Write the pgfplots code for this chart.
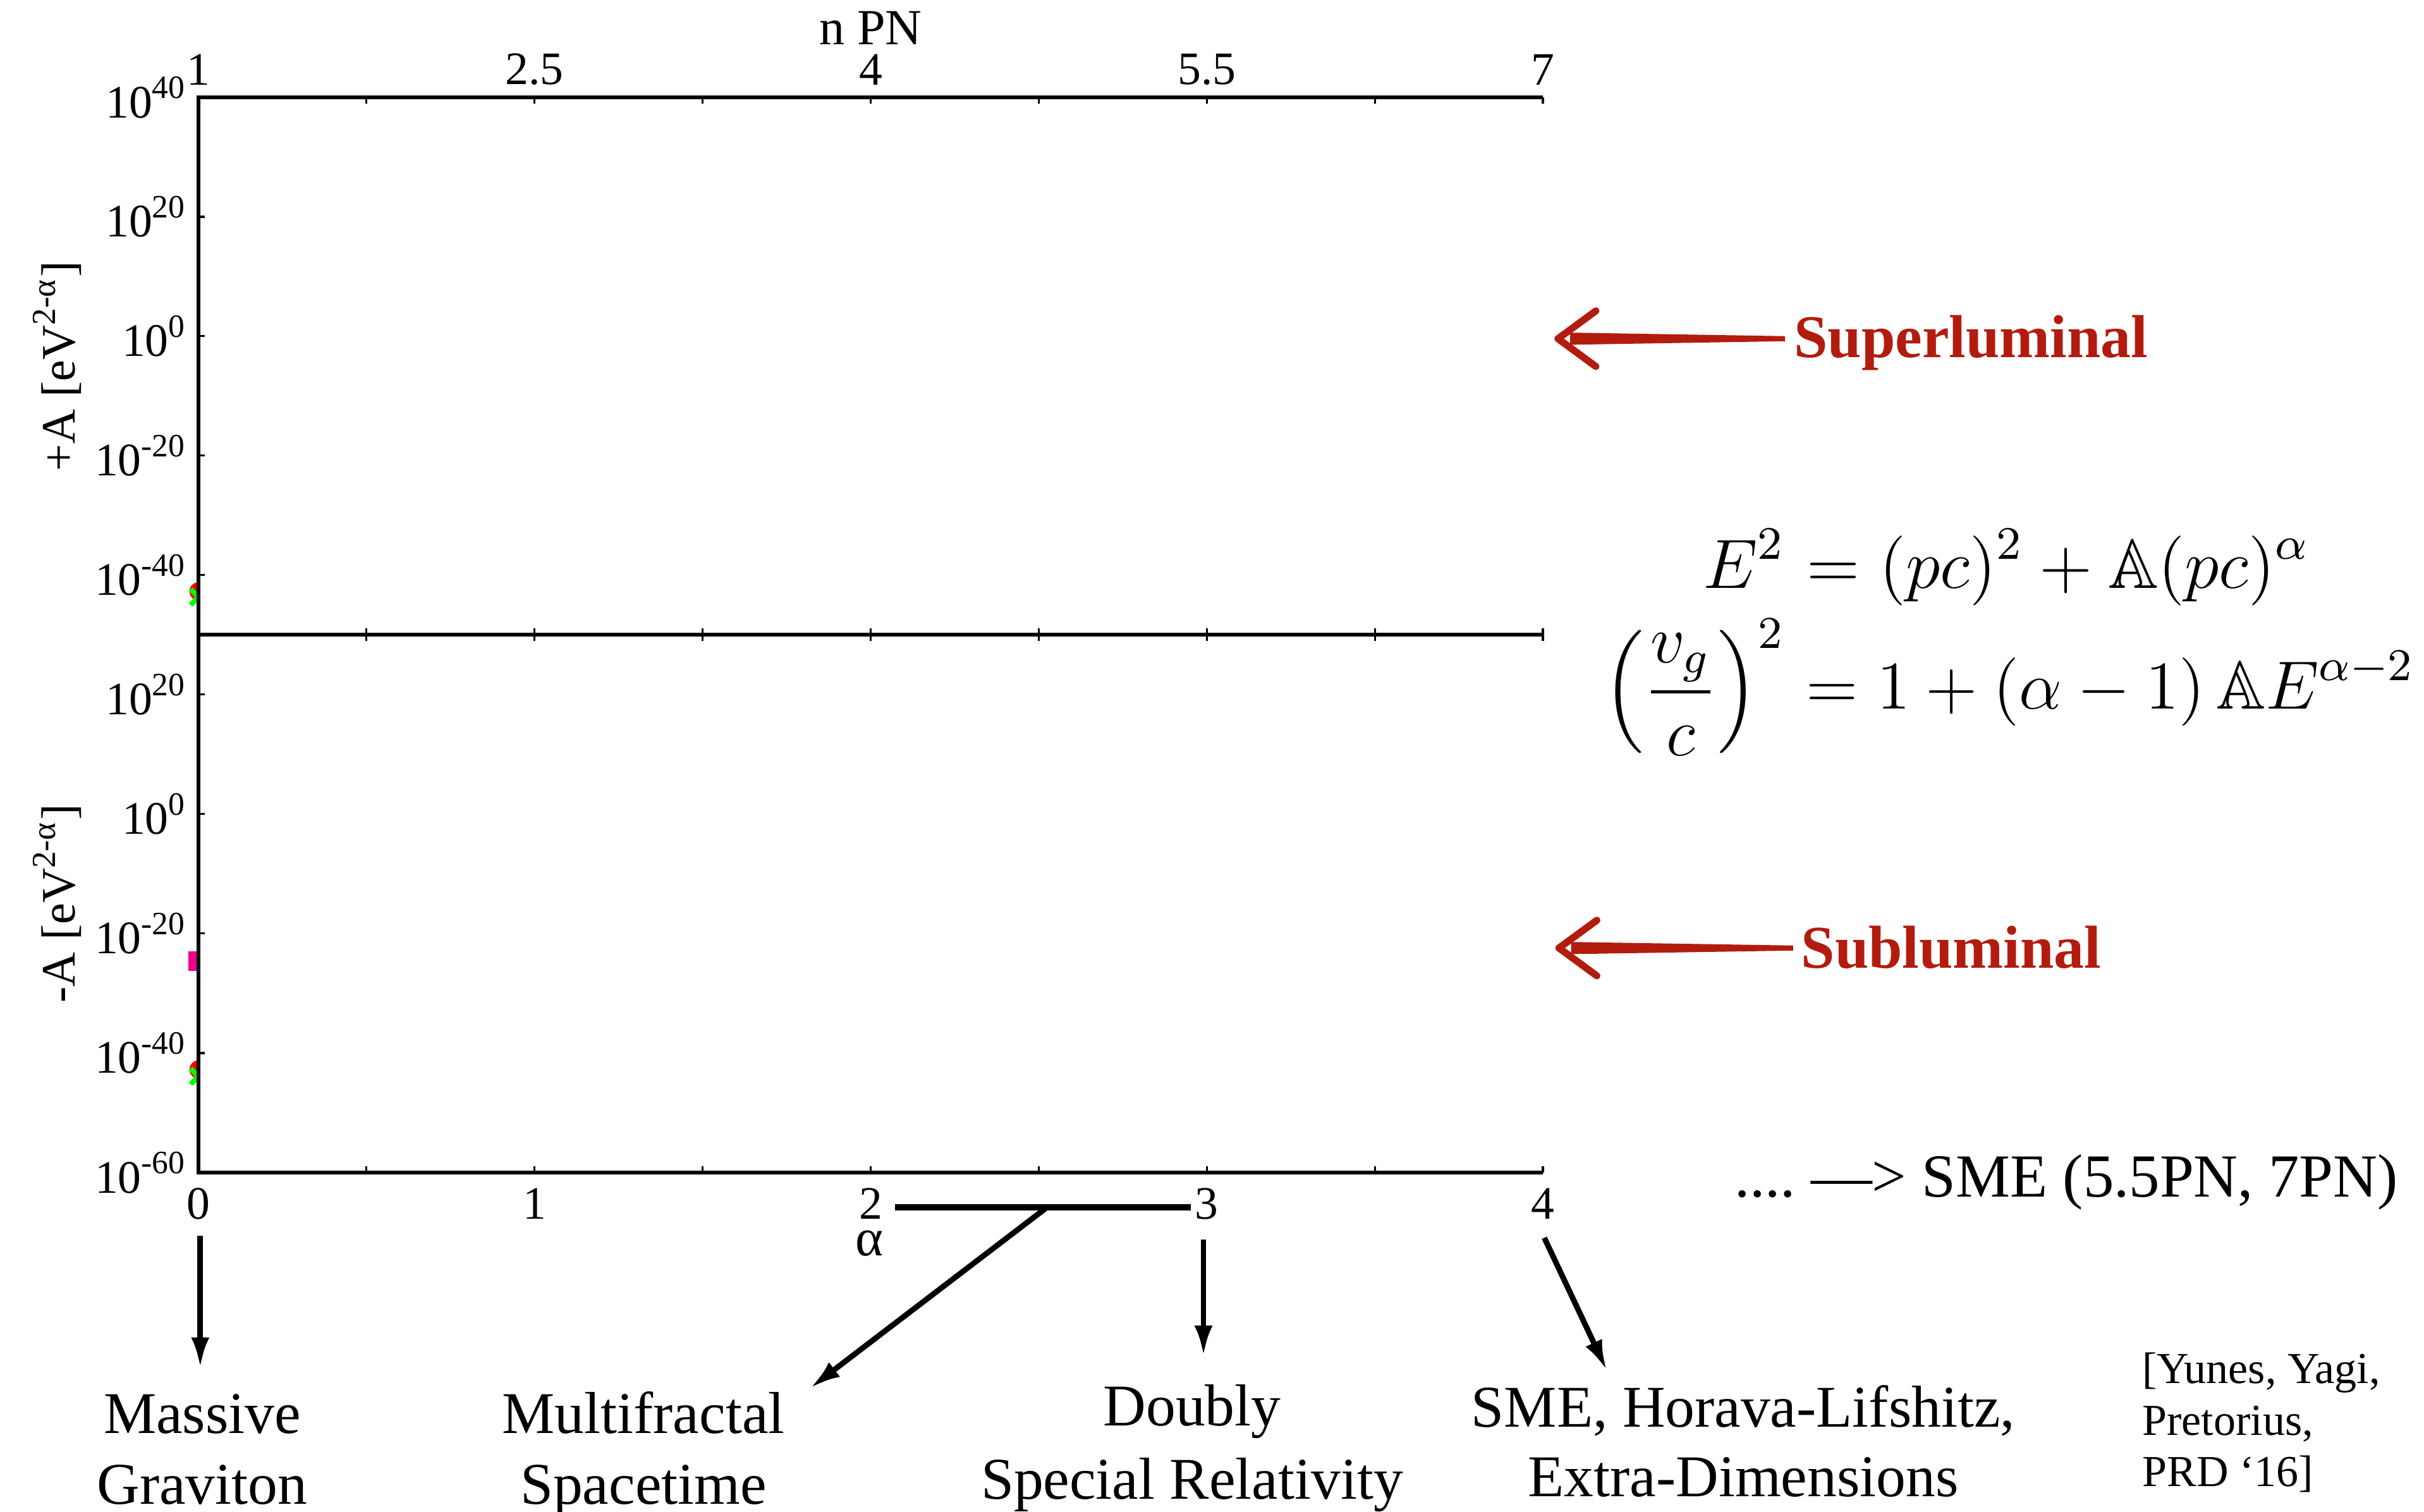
\documentclass[border=0pt]{standalone}
\usepackage{amssymb}
\usepackage[no-math]{fontspec}
\setmainfont{Liberation Serif}
\usepackage{pgfplots}
\pgfplotsset{compat=1.18}
\usetikzlibrary{arrows.meta}

\definecolor{lumred}{RGB}{178,28,14}
\newcommand{\eqsize}{\fontsize{12}{14}\selectfont}
\newcommand{\tickfont}{\fontsize{9.2}{11}\selectfont}

\begin{document}
\begin{tikzpicture}
\path[use as bounding box] (0,0) rectangle (479.375pt,298.875pt);

% upper panel: A > 0
\begin{axis}[
  at={(39.25pt,173.375pt)}, anchor=south west,
  scale only axis, width=265.875pt, height=106.25pt,
  xmin=0, xmax=4,
  ymode=log, ymin=1e-50, ymax=1e40,
  axis line style={draw=none},
  xtick={0,1,2,3,4}, minor xtick={0.5,1.5,2.5,3.5},
  xtick pos=both, ytick pos=left, yminorticks=false,
  tick align=inside,
  major tick length=1.3pt, minor tick length=1.3pt,
  tick style={black, line width=0.4pt},
  tick label style={font=\tickfont, inner sep=0pt},
  yticklabel shift=2pt,
  clip=false, clip marker paths=true, axis on top,
  ytick={1e-40,1e-20,1,1e20,1e40},
  yticklabels={10\textsuperscript{-40},10\textsuperscript{-20},10\textsuperscript{0},10\textsuperscript{20},10\textsuperscript{40}},
  xticklabel pos=upper,
  xticklabels={1,2.5,4,5.5,7},
  xticklabel shift=2.25pt,
]
\addplot[only marks, mark=*, mark size=1.6pt, color=red] coordinates {(0,1.78e-43)};
\addplot[only marks, mark=x, mark size=2.2pt, mark options={line width=1pt}, color=green] coordinates {(0,2.0e-44)};
\fill[white] (rel axis cs:0,0) rectangle (rel axis cs:1,1);
\draw[line width=0.7pt] (rel axis cs:1,0) -- (rel axis cs:0,0) -- (rel axis cs:0,1) -- (rel axis cs:1,1);
\end{axis}

% lower panel: A < 0
\begin{axis}[
  at={(39.25pt,67pt)}, anchor=south west,
  scale only axis, width=265.875pt, height=106.375pt,
  xmin=0, xmax=4,
  ymode=log, ymin=1e-60, ymax=1e30,
  axis line style={draw=none},
  xtick={0,1,2,3,4}, minor xtick={0.5,1.5,2.5,3.5},
  xtick pos=both, ytick pos=left, yminorticks=false,
  tick align=inside,
  major tick length=1.3pt, minor tick length=1.3pt,
  tick style={black, line width=0.4pt},
  tick label style={font=\tickfont, inner sep=0pt},
  yticklabel shift=2pt,
  clip=false, clip marker paths=true, axis on top,
  ytick={1e-60,1e-40,1e-20,1,1e20},
  yticklabels={10\textsuperscript{-60},10\textsuperscript{-40},10\textsuperscript{-20},10\textsuperscript{0},10\textsuperscript{20}},
  xticklabel pos=lower,
  xticklabels={0,1,2,3,4},
  xticklabel shift=2.9pt,
]
\addplot[only marks, mark=square*, mark size=1.75pt, color=magenta] coordinates {(0,2.19e-25)};
\addplot[only marks, mark=*, mark size=1.6pt, color=red] coordinates {(0,1.78e-43)};
\addplot[only marks, mark=x, mark size=2.2pt, mark options={line width=1pt}, color=green] coordinates {(0,1.26e-44)};
\fill[white] (rel axis cs:0,0) rectangle (rel axis cs:1,1);
\draw[line width=0.7pt] (rel axis cs:1,1) -- (rel axis cs:0,1) -- (rel axis cs:0,0) -- (rel axis cs:1,0);
\end{axis}

% axis titles
\node[rotate=90, anchor=base, inner sep=0pt, font=\fontsize{9.5}{11}\selectfont] at (14.75pt,226.5pt) {+A [eV\textsuperscript{2-α}]};
\node[rotate=90, anchor=base, inner sep=0pt, font=\fontsize{9.5}{11}\selectfont] at (14.75pt,120.2pt) {-A [eV\textsuperscript{2-α}]};
\node[anchor=base, inner sep=0pt, font=\fontsize{10}{12}\selectfont] at (172.2pt,290pt) {n PN};
\node[anchor=base, inner sep=0pt, font=\fontsize{10.5}{12}\selectfont] at (171.9pt,50.6pt) {α};

% sign of A
\fill[lumred] (353pt,231.4pt) -- (310.5pt,230.7pt) -- (310.5pt,233.1pt) -- (353pt,232.4pt) -- cycle;
\draw[lumred, line width=1.4pt, line cap=round, line join=round] (315.6pt,237.4pt) -- (308.1pt,231.9pt) -- (315.6pt,226.4pt);
\node[anchor=base west, inner sep=0pt, text=lumred, font=\fontsize{12}{14}\selectfont\bfseries] at (354.6pt,228.2pt) {Superluminal};

\fill[lumred] (354.6pt,110.9pt) -- (310.7pt,110.2pt) -- (310.7pt,112.6pt) -- (354.6pt,111.9pt) -- cycle;
\draw[lumred, line width=1.4pt, line cap=round, line join=round] (315.8pt,116.9pt) -- (308.3pt,111.4pt) -- (315.8pt,105.9pt);
\node[anchor=base west, inner sep=0pt, text=lumred, font=\fontsize{12}{14}\selectfont\bfseries] at (356pt,107.4pt) {Subluminal};

% dispersion relation
\begin{scope}[every node/.style={inner sep=0pt, font=\eqsize, scale=1.15, transform shape}]
\node[anchor=base east] at (353.25pt,182.6pt) {$\displaystyle E^2$};
\node[anchor=base west] at (353.25pt,182.6pt) {$\displaystyle {}=(pc)^2+\mathbb{A}(pc)^\alpha$};
\end{scope}
\begin{scope}[every node/.style={inner sep=0pt, font=\eqsize, scale=1.125, transform shape}]
\node[anchor=base east] at (353.25pt,158.7pt) {$\displaystyle\left(\frac{v_g}{c}\right)^2$};
\node[anchor=base west] at (353.25pt,158.7pt) {$\displaystyle {}=1+(\alpha-1)\,\mathbb{A}E^{\alpha-2}$};
\end{scope}

\node[anchor=base, inner sep=0pt, font=\fontsize{12.1}{14}\selectfont] at (408.6pt,62.2pt) {....\ —>\ SME (5.5PN, 7PN)};

% theories at each alpha
\draw[line width=1.1pt, -{Latex[length=6pt,width=3.6pt]}] (39.6pt,54.5pt) -- (39.6pt,28.4pt);
\draw[line width=1.3pt] (177pt,60.1pt) -- (235.5pt,60.1pt);
\draw[line width=1.1pt, -{Latex[length=6pt,width=3.6pt]}] (206.75pt,59.9pt) -- (160.25pt,24.4pt);
\draw[line width=1.1pt, -{Latex[length=6pt,width=3.6pt]}] (238pt,53.75pt) -- (238pt,30.75pt);
\draw[line width=1.1pt, -{Latex[length=6pt,width=3.6pt]}] (305.4pt,54.1pt) -- (317.75pt,27.9pt);

\begin{scope}[every node/.style={anchor=base, inner sep=0pt, font=\fontsize{11.7}{14}\selectfont}]
\node at (40pt,15.5pt) {Massive};
\node at (40pt,1.4pt) {Graviton};
\node at (127.25pt,15.5pt) {Multifractal};
\node at (127.25pt,1.4pt) {Spacetime};
\node at (235.75pt,16.9pt) {Doubly};
\node at (235.75pt,2.5pt) {Special Relativity};
\node at (344.75pt,16.75pt) {SME, Horava-Lifshitz,};
\node at (344.75pt,3pt) {Extra-Dimensions};
\end{scope}

\begin{scope}[every node/.style={anchor=base west, inner sep=0pt, font=\fontsize{8.75}{10}\selectfont}]
\node at (423.5pt,25.3pt) {[Yunes, Yagi,};
\node at (423.5pt,15.1pt) {Pretorius,};
\node at (423.5pt,4.9pt) {PRD ‘16]};
\end{scope}
\end{tikzpicture}
\end{document}
